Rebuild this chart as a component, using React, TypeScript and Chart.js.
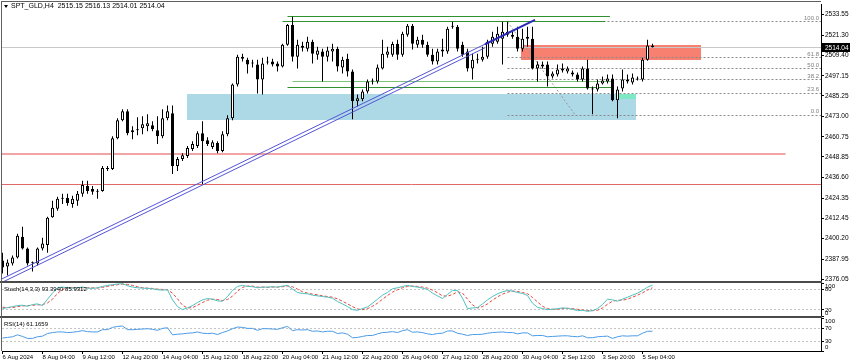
import React, { useEffect, useRef } from 'react';
import { Chart, registerables } from 'chart.js';
Chart.register(...registerables);

// ---------- candle data (H4 bars, index 0 = 6 Aug 2024 00:00) ----------
const opens = [
  2387.2, 2383.7, 2385.4, 2389.0, 2401.4, 2394.3, 2386.0, 2385.4, 2394.3, 2396.5,
  2412.9, 2418.0, 2423.9, 2424.5, 2420.9, 2422.7, 2426.9, 2431.6, 2429.8, 2428.1,
  2428.6, 2441.7, 2441.7, 2460.0, 2470.6, 2476.0, 2463.6, 2464.7, 2465.9, 2467.1,
  2467.7, 2464.7, 2461.2, 2471.8, 2474.8, 2443.4, 2447.6, 2449.4, 2453.5, 2455.3,
  2463.0, 2458.8, 2454.7, 2457.1, 2452.3, 2462.4, 2471.8, 2491.9, 2508.5, 2506.7,
  2504.4, 2503.8, 2494.9, 2505.0, 2505.6, 2504.4, 2502.6, 2515.6, 2527.4, 2508.5,
  2515.0, 2513.2, 2517.4, 2509.7, 2511.5, 2508.5, 2511.5, 2513.2, 2502.0, 2507.3,
  2499.6, 2481.9, 2483.1, 2487.8, 2493.7, 2493.7, 2501.4, 2509.7, 2509.7, 2516.2,
  2509.7, 2521.5, 2526.9, 2515.6, 2518.6, 2515.6, 2509.7, 2505.6, 2511.5, 2511.5,
  2526.3, 2526.3, 2515.6, 2511.5, 2501.4, 2506.7, 2506.7, 2508.5, 2516.2, 2517.4,
  2519.2, 2523.3, 2521.5, 2520.3, 2513.2, 2519.2, 2519.2, 2501.4, 2502.6, 2503.8,
  2496.7, 2497.9, 2500.2, 2499.6, 2499.1, 2497.9, 2494.9, 2501.4, 2489.6, 2489.0,
  2492.5, 2493.7, 2495.5, 2482.5, 2489.6, 2494.9, 2493.1, 2495.5, 2494.9, 2506.7,
  2515.15,
];
const highs = [
  2391.9, 2387.8, 2390.2, 2403.2, 2407.3, 2394.9, 2386.6, 2394.9, 2400.8, 2413.3,
  2422.7, 2425.1, 2426.9, 2426.9, 2425.7, 2428.6, 2434.6, 2434.6, 2431.6, 2429.8,
  2443.4, 2443.4, 2461.2, 2471.8, 2477.2, 2477.2, 2467.1, 2472.4, 2473.0, 2474.2,
  2470.1, 2473.0, 2477.2, 2479.5, 2479.5, 2448.8, 2451.1, 2455.3, 2458.2, 2464.1,
  2470.1, 2460.6, 2458.8, 2458.2, 2464.1, 2473.6, 2492.5, 2509.7, 2510.3, 2507.9,
  2506.7, 2506.7, 2507.9, 2508.5, 2507.3, 2505.6, 2516.2, 2528.0, 2532.2, 2518.6,
  2517.4, 2520.3, 2518.6, 2514.4, 2513.2, 2514.4, 2516.2, 2514.4, 2508.5, 2510.3,
  2500.8, 2486.0, 2489.0, 2494.9, 2495.5, 2503.8, 2518.6, 2514.4, 2517.4, 2518.6,
  2523.3, 2528.0, 2528.0, 2520.3, 2521.5, 2517.4, 2513.2, 2513.2, 2519.2, 2526.3,
  2529.2, 2527.4, 2517.4, 2513.2, 2510.3, 2510.3, 2514.4, 2518.6, 2523.3, 2526.3,
  2529.2, 2529.2, 2523.3, 2526.3, 2525.1, 2526.3, 2526.3, 2505.6, 2505.6, 2505.6,
  2499.6, 2503.8, 2504.4, 2502.6, 2500.2, 2499.1, 2502.6, 2506.7, 2490.8, 2494.9,
  2496.7, 2497.9, 2497.9, 2490.8, 2500.8, 2497.9, 2498.5, 2496.7, 2507.9, 2518.6,
  2516.13,
];
const lows = [
  2379.5, 2378.3, 2384.3, 2388.4, 2393.7, 2384.3, 2380.7, 2384.3, 2393.1, 2391.9,
  2412.7, 2416.8, 2420.9, 2419.8, 2418.6, 2419.8, 2425.1, 2426.9, 2426.3, 2423.9,
  2428.1, 2440.5, 2441.1, 2459.4, 2470.1, 2461.8, 2459.4, 2461.8, 2462.4, 2464.1,
  2464.1, 2456.5, 2460.0, 2470.6, 2438.7, 2440.5, 2446.4, 2448.2, 2452.3, 2454.1,
  2432.8, 2455.3, 2453.5, 2451.1, 2451.7, 2461.2, 2470.6, 2490.8, 2505.6, 2498.5,
  2502.0, 2486.6, 2486.0, 2503.8, 2502.6, 2499.6, 2502.0, 2515.0, 2505.6, 2501.4,
  2511.5, 2511.5, 2504.4, 2506.7, 2493.7, 2505.6, 2505.6, 2499.6, 2498.5, 2496.7,
  2471.2, 2478.9, 2481.9, 2486.6, 2491.9, 2492.5, 2500.8, 2507.9, 2508.5, 2506.7,
  2508.5, 2520.3, 2512.7, 2513.8, 2513.8, 2508.5, 2503.8, 2503.8, 2508.5, 2510.3,
  2525.1, 2511.5, 2508.5, 2499.6, 2494.9, 2504.4, 2505.6, 2507.3, 2514.4, 2516.2,
  2503.8, 2520.3, 2519.2, 2511.5, 2511.5, 2514.4, 2500.8, 2493.7, 2501.4, 2490.8,
  2495.5, 2496.7, 2499.1, 2498.5, 2496.7, 2493.7, 2493.7, 2489.0, 2474.2, 2487.8,
  2491.9, 2492.5, 2481.9, 2471.8, 2487.8, 2492.5, 2491.9, 2494.3, 2493.7, 2506.1,
  2514.01,
];
const closes = [
  2383.1, 2386.0, 2389.0, 2402.0, 2394.3, 2385.4, 2385.6, 2394.3, 2397.3, 2412.7,
  2418.6, 2423.9, 2424.5, 2421.5, 2423.9, 2426.9, 2432.2, 2428.6, 2428.1, 2428.6,
  2442.3, 2442.0, 2460.0, 2470.6, 2476.0, 2463.0, 2464.7, 2465.3, 2468.3, 2468.9,
  2465.3, 2461.2, 2471.8, 2476.0, 2443.4, 2447.6, 2449.9, 2454.1, 2456.5, 2463.0,
  2458.2, 2456.5, 2457.6, 2452.3, 2462.4, 2471.8, 2491.9, 2508.5, 2507.3, 2503.8,
  2504.6, 2494.9, 2504.4, 2505.6, 2503.8, 2502.6, 2515.6, 2527.4, 2508.5, 2515.6,
  2513.8, 2517.4, 2510.3, 2512.1, 2508.5, 2512.1, 2513.2, 2502.6, 2506.7, 2499.6,
  2481.9, 2483.7, 2487.8, 2493.7, 2494.0, 2502.0, 2510.3, 2511.5, 2516.0, 2509.7,
  2522.1, 2526.9, 2516.2, 2518.6, 2515.6, 2509.7, 2505.6, 2511.5, 2512.7, 2525.1,
  2526.9, 2513.2, 2509.7, 2501.4, 2506.7, 2507.3, 2508.5, 2517.4, 2520.3, 2522.1,
  2523.3, 2521.5, 2520.3, 2513.2, 2519.2, 2520.3, 2501.4, 2503.8, 2503.8, 2496.7,
  2498.5, 2500.8, 2501.4, 2501.4, 2497.9, 2494.9, 2501.4, 2489.6, 2489.0, 2492.5,
  2494.3, 2495.5, 2482.5, 2489.0, 2494.9, 2493.7, 2496.1, 2494.9, 2506.7, 2515.1,
  2514.04,
];

// ---------- indicator data ----------
const stochK = [
  24, 27, 30, 33, 34, 31, 36, 38, 33, 52,
  70, 86, 88, 86, 85, 86, 88, 85, 84, 86,
  90, 93, 95, 97, 98, 92, 88, 86, 85, 84,
  83, 80, 79, 80, 50, 30, 21, 26, 33, 42,
  50, 54, 52, 47, 46, 60, 78, 90, 93, 90,
  89, 86, 88, 88, 89, 88, 91, 93, 82, 72,
  69, 68, 64, 62, 60, 58, 55, 45, 38, 30,
  21, 19, 24, 29, 40, 52, 64, 72, 83, 86,
  90, 93, 90, 88, 85, 81, 70, 62, 54, 66,
  78, 78, 55, 24, 26, 27, 38, 50, 60, 68,
  74, 78, 76, 72, 69, 63, 40, 28, 24, 21,
  22, 24, 26, 25, 22, 18, 19, 16, 18, 24,
  36, 52, 50, 46, 52, 58, 64, 70, 78, 88,
  93.394,
];
const stochD = [
  28, 27, 27, 30, 32, 33, 34, 35, 36, 41,
  52, 69, 81, 87, 86, 86, 86, 86, 86, 85,
  87, 90, 93, 95, 97, 96, 93, 89, 86, 85,
  84, 82, 81, 80, 70, 53, 34, 26, 27, 34,
  42, 49, 52, 51, 48, 51, 61, 76, 87, 91,
  91, 88, 88, 87, 88, 88, 89, 91, 89, 82,
  74, 70, 67, 65, 62, 60, 58, 53, 46, 38,
  30, 23, 21, 24, 31, 40, 52, 63, 73, 80,
  86, 90, 91, 90, 88, 85, 79, 71, 62, 61,
  66, 74, 70, 52, 35, 26, 30, 38, 49, 59,
  67, 73, 76, 75, 72, 68, 57, 44, 31, 24,
  22, 22, 24, 25, 24, 22, 20, 18, 18, 19,
  26, 37, 46, 49, 49, 52, 58, 64, 71, 79,
  85.9312,
];
const rsiValues = [
  40, 42, 44, 50, 45, 39, 39, 44, 46, 54,
  57, 59, 59, 57, 58, 60, 63, 60, 59, 59,
  66, 66, 73, 76, 77, 66, 66, 67, 68, 69,
  67, 64, 70, 72, 50, 52, 53, 55, 56, 59,
  55, 54, 55, 51, 57, 62, 69, 74, 73, 70,
  70, 64, 69, 69, 68, 67, 72, 76, 63, 66,
  65, 66, 61, 62, 59, 61, 61, 54, 56, 52,
  41, 42, 45, 48, 48, 53, 57, 58, 60, 57,
  63, 66, 58, 59, 57, 53, 51, 54, 55, 62,
  62, 55, 52, 48, 51, 51, 52, 55, 57, 58,
  59, 57, 57, 53, 56, 56, 47, 48, 48, 44,
  45, 46, 47, 47, 45, 44, 47, 41, 41, 44,
  45, 46, 39, 44, 47, 46, 47, 47, 55, 61,
  61.1659,
];

// ---------- axis labels ----------
const priceTicks = [2533.55, 2521.30, 2509.40, 2497.15, 2485.25, 2473.00, 2460.75, 2448.85, 2436.60, 2424.35, 2412.45, 2400.20, 2387.95, 2376.05];
const timeTickIndex = [0, 8, 16, 24, 32, 40, 48, 56, 64, 72, 80, 88, 96, 104, 112, 120, 128];
const timeLabels = ['6 Aug 2024', '8 Aug 04:00', '9 Aug 12:00', '12 Aug 20:00', '14 Aug 04:00', '15 Aug 12:00', '18 Aug 22:00', '20 Aug 04:00', '21 Aug 12:00', '22 Aug 20:00', '26 Aug 04:00', '27 Aug 12:00', '28 Aug 20:00', '30 Aug 04:00', '2 Sep 12:00', '3 Sep 20:00', '5 Sep 04:00'];
const stochTicks = [100, 80, 20, 0];
const stochLevels = [80, 20];
const rsiTicks = [100, 70, 30, 0];
const rsiLevels = [70, 30];

// ---------- drawn objects (bar index / price) ----------
const titleText = 'SPT_GLD,H4  2515.15 2516.13 2514.01 2514.04';
const stochTitle = 'Stoch(14,3,3) 93.3940 85.9312';
const rsiTitle = 'RSI(14) 61.1659';
const bidPrice = 2514.04;
const fibLevels = [100, 61.8, 50, 38.2, 23.6, 0];
const fibLabels = ['100.0', '61.8', '50.0', '38.2', '23.6', '0.0'];
const fibHigh = 2529.2;
const fibLow = 2473.6;
const fibStart = 101;
const fibEnd = 114.6;
const blueZone = [36.8, 126.7, 2486.4, 2470.6];
const mintZone = [123.1, 126.7, 2486.0, 2483.4];
const redZone = [103.6, 139.7, 2515.4, 2506.8];
const greenLines = [
  [57, 121.5, 2532.2],
  [56, 120.5, 2529.2],
  [58, 122.2, 2493.7],
  [57, 122.2, 2490.2],
];
const supportLines = [
  [-0.5, 156.6, 2450.7],
  [-0.5, 164, 2432.2],
];
const trendUpper = [-0.1, 2376.3, 106.5, 2530.4];
const trendLower = [-0.1, 2374.2, 96.5, 2513.8];
const trendBold = [96.5, 2515.9, 106.5, 2530.4];

const FONT = "'Liberation Sans', Arial, sans-serif";

const mt4Plugin = {
  id: 'mt4',
  beforeDatasetsDraw(chart: any) {
    const { ctx, chartArea } = chart;
    const xs = chart.scales.x, y = chart.scales.y, ys = chart.scales.ys, yr = chart.scales.yr;
    const px = (i: number) => xs.getPixelForValue(i);
    const py = (p: number) => y.getPixelForValue(p);
    const L = chartArea.left, R = chartArea.right;
    const hl = (x1: number, x2: number, yy: number, color: string, w: number, dash: number[] = []) => {
      ctx.save();
      ctx.strokeStyle = color; ctx.lineWidth = w; ctx.setLineDash(dash);
      const yv = w % 2 === 1 ? Math.round(yy - 0.5) + 0.5 : Math.round(yy);
      ctx.beginPath(); ctx.moveTo(x1, yv); ctx.lineTo(x2, yv); ctx.stroke();
      ctx.restore();
    };
    ctx.save();
    ctx.beginPath(); ctx.rect(L, y.top, R - L, y.bottom - y.top); ctx.clip();
    const zone = (z: number[], color: string) => {
      const x0 = Math.round(px(z[0])), x1 = Math.round(px(z[1]));
      const y0 = Math.round(py(z[2])), y1 = Math.round(py(z[3]));
      ctx.fillStyle = color; ctx.fillRect(x0, y0, x1 - x0, y1 - y0);
    };
    zone(blueZone, '#add8e6');
    zone(mintZone, '#7fe8c4');
    zone(redZone, '#f88070');
    // bid line
    hl(L, R, py(bidPrice), '#c8c8c8', 1);
    // support lines
    hl(px(supportLines[0][0]), px(supportLines[0][1]), py(supportLines[0][2]), '#f2a4a4', 2);
    hl(px(supportLines[1][0]), px(supportLines[1][1]), py(supportLines[1][2]), '#e06a6a', 1);
    // fibonacci
    fibLevels.forEach((lv) => {
      const p = fibLow + (fibHigh - fibLow) * lv / 100;
      hl(px(fibStart), R, py(p), '#8a8a8a', 1, [2, 2]);
    });
    ctx.strokeStyle = '#9a9a9a'; ctx.lineWidth = 1; ctx.setLineDash([2, 2]);
    ctx.beginPath(); ctx.moveTo(px(fibStart), py(fibHigh)); ctx.lineTo(px(fibEnd), py(fibLow)); ctx.stroke();
    ctx.setLineDash([]);
    // range lines (green)
    const gcol = ['#2f922f', '#2f922f', '#7cc47c', '#2f922f'];
    greenLines.forEach((g, k) => hl(px(g[0]), px(g[1]), py(g[2]), gcol[k], 1));
    ctx.restore();
    // level lines of sub windows
    stochLevels.forEach((v) => hl(L, R, ys.getPixelForValue(v), '#c4c4c4', 1, [2, 2]));
    rsiLevels.forEach((v) => hl(L, R, yr.getPixelForValue(v), '#c4c4c4', 1, [2, 2]));
  },
  afterDatasetsDraw(chart: any) {
    const { ctx, chartArea } = chart;
    const xs = chart.scales.x, y = chart.scales.y;
    const px = (i: number) => xs.getPixelForValue(i);
    const py = (p: number) => y.getPixelForValue(p);
    ctx.save();
    ctx.beginPath(); ctx.rect(chartArea.left, y.top, chartArea.right - chartArea.left, y.bottom - y.top); ctx.clip();
    const seg = (t: number[], color: string, w: number) => {
      ctx.strokeStyle = color; ctx.lineWidth = w;
      ctx.beginPath(); ctx.moveTo(px(t[0]), py(t[1])); ctx.lineTo(px(t[2]), py(t[3])); ctx.stroke();
    };
    seg(trendUpper, '#5454d6', 1);
    seg(trendLower, '#5454d6', 1);
    seg(trendBold, '#2b2bb8', 2);
    // fib labels
    ctx.font = `6px ${FONT}`; ctx.fillStyle = '#808080'; ctx.textAlign = 'right'; ctx.textBaseline = 'alphabetic';
    fibLevels.forEach((lv, k) => {
      const p = fibLow + (fibHigh - fibLow) * lv / 100;
      ctx.fillText(fibLabels[k], chartArea.right - 2, py(p) - 2);
    });
    ctx.restore();
  },
  afterDraw(chart: any) {
    const { ctx, chartArea } = chart;
    const y = chart.scales.y, ys = chart.scales.ys, yr = chart.scales.yr;
    const R = chartArea.right;
    ctx.save();
    // window separators and frame
    ctx.fillStyle = '#4a4a4a';
    ctx.fillRect(0, Math.round(y.bottom) - 1, R + 1, 2);
    ctx.fillRect(0, Math.round(ys.bottom) - 1, R + 1, 2);
    ctx.strokeStyle = '#606060'; ctx.lineWidth = 1;
    ctx.beginPath(); ctx.moveTo(1.5, 1); ctx.lineTo(1.5, chartArea.bottom); ctx.moveTo(1, 1.5); ctx.lineTo(R, 1.5); ctx.stroke();
    // price box
    const by = y.getPixelForValue(bidPrice);
    ctx.fillStyle = '#000';
    ctx.fillRect(R + 1, Math.round(by) - 4, 29, 9);
    ctx.fillStyle = '#fff'; ctx.font = `6.5px ${FONT}`; ctx.textAlign = 'left'; ctx.textBaseline = 'middle';
    ctx.fillText(bidPrice.toFixed(2), R + 4, by + 0.5);
    // sub-window scale labels
    ctx.fillStyle = '#000'; ctx.font = `6px ${FONT}`;
    const subLabels = (sc: any, vals: number[]) => {
      vals.forEach((v) => {
        let yy = sc.getPixelForValue(v);
        yy = Math.min(Math.max(yy, sc.top + 4), sc.bottom - 4);
        ctx.fillText(String(v), R + 4, yy);
      });
    };
    subLabels(ys, stochTicks);
    subLabels(yr, rsiTicks);
    // titles
    ctx.fillStyle = '#000';
    ctx.beginPath(); ctx.moveTo(4, 5); ctx.lineTo(8, 5); ctx.lineTo(6, 8); ctx.closePath(); ctx.fill();
    ctx.textBaseline = 'middle'; ctx.textAlign = 'left';
    ctx.font = `7px ${FONT}`;
    ctx.fillText(titleText, 11, 6.5);
    ctx.font = `6px ${FONT}`;
    ctx.fillText(stochTitle, 4, ys.top + 7);
    ctx.fillText(rsiTitle, 4, yr.top + 7);
    ctx.restore();
  },
};

export default function App() {
  const ref = useRef<HTMLCanvasElement>(null);
  useEffect(() => {
    document.body.style.margin = '0';
    const idx = opens.map((_, i) => i);
    const bodies = idx.map((i) => ({ x: i, y: [opens[i], closes[i]] }));
    const wicks = idx.map((i) => ({ x: i, y: [lows[i], highs[i]] }));
    const bull = idx.map((i) => closes[i] >= opens[i]);
    const chart = new Chart(ref.current as HTMLCanvasElement, {
      type: 'bar',
      data: {
        datasets: [
          {
            type: 'bar', data: wicks as any, yAxisID: 'y', xAxisID: 'x', grouped: false, maxBarThickness: 1,
            backgroundColor: '#000', borderWidth: 0, inflateAmount: 0, order: 2,
          } as any,
          {
            type: 'bar', data: bodies as any, yAxisID: 'y', xAxisID: 'x', grouped: false, maxBarThickness: 3,
            backgroundColor: bull.map((b) => (b ? '#ffffff' : '#000000')), borderColor: '#000', borderWidth: 1,
            borderSkipped: false, minBarLength: 1, inflateAmount: 0, order: 1,
          } as any,
          {
            type: 'line', data: idx.map((i) => ({ x: i, y: stochK[i] })), yAxisID: 'ys', xAxisID: 'x',
            borderColor: '#4fc1c0', borderWidth: 1, pointRadius: 0, tension: 0, order: 0,
          } as any,
          {
            type: 'line', data: idx.map((i) => ({ x: i, y: stochD[i] })), yAxisID: 'ys', xAxisID: 'x',
            borderColor: '#e8453c', borderWidth: 1, borderDash: [3, 2], pointRadius: 0, tension: 0, order: 0,
          } as any,
          {
            type: 'line', data: idx.map((i) => ({ x: i, y: rsiValues[i] })), yAxisID: 'yr', xAxisID: 'x',
            borderColor: '#4a9be6', borderWidth: 1, pointRadius: 0, tension: 0, order: 0,
          } as any,
        ],
      },
      options: {
        responsive: false,
        animation: false,
        events: [],
        layout: { padding: { left: 2, top: 3, right: 0, bottom: 0 } },
        plugins: { legend: { display: false }, tooltip: { enabled: false } },
        scales: {
          x: {
            type: 'linear', position: 'bottom', min: -0.1, max: 163.7, offset: false,
            afterBuildTicks: (s: any) => { s.ticks = timeTickIndex.map((v) => ({ value: v })); },
            afterFit: (s: any) => { s.height = 13; },
            ticks: {
              autoSkip: false, maxRotation: 0, minRotation: 0, align: 'start', padding: 0,
              font: { family: FONT, size: 6 }, color: '#000',
              callback: (_v: any, i: number) => timeLabels[i],
            },
            grid: { drawOnChartArea: false, drawTicks: true, tickLength: 3, color: '#000', offset: false },
            border: { display: true, color: '#000' },
          },
          y: {
            type: 'linear', position: 'right', stack: 'win', stackWeight: 279, min: 2374.2, max: 2539.3,
            afterBuildTicks: (s: any) => { s.ticks = priceTicks.map((v) => ({ value: v })); },
            afterFit: (s: any) => { s.width = 29; },
            ticks: { font: { family: FONT, size: 6.5 }, color: '#000', padding: 1, callback: (v: any) => Number(v).toFixed(2) },
            grid: { drawOnChartArea: false, drawTicks: true, tickLength: 3, color: '#000' },
            border: { display: true, color: '#000' },
          },
          ys: {
            type: 'linear', position: 'right', stack: 'win', stackWeight: 35, min: -1.5, max: 102,
            afterBuildTicks: (s: any) => { s.ticks = stochTicks.map((v) => ({ value: v })); },
            afterFit: (s: any) => { s.width = 29; },
            ticks: { display: false },
            grid: { drawOnChartArea: false, drawTicks: true, tickLength: 3, color: '#000' },
            border: { display: true, color: '#000' },
          },
          yr: {
            type: 'linear', position: 'right', stack: 'win', stackWeight: 34, min: 0, max: 104.6,
            afterBuildTicks: (s: any) => { s.ticks = rsiTicks.map((v) => ({ value: v })); },
            afterFit: (s: any) => { s.width = 29; },
            ticks: { display: false },
            grid: { drawOnChartArea: false, drawTicks: true, tickLength: 3, color: '#000' },
            border: { display: true, color: '#000' },
          },
        },
      } as any,
      plugins: [mt4Plugin],
    });
    return () => chart.destroy();
  }, []);
  return (
    <div style={{ width: 850, height: 364, background: '#fff' }}>
      <canvas ref={ref} width={850} height={364} style={{ display: 'block' }} />
    </div>
  );
}
